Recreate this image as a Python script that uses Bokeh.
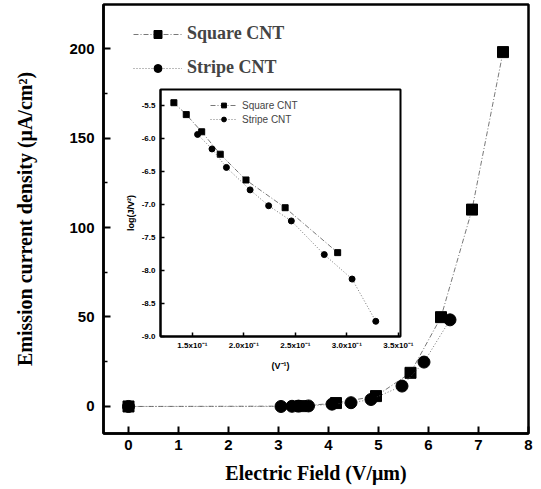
from bokeh.plotting import figure
from bokeh.models import Range1d, FixedTicker
from bokeh.embed import file_html
from bokeh.resources import INLINE

# ---- main data (Electric field V/um vs emission current density uA/cm^2)
sq_field = [0.0, 3.45, 4.15, 4.95, 5.64, 6.25, 6.87, 7.49]
sq_j = [0.0, 0.2, 1.9, 5.8, 18.8, 49.9, 110.0, 198.0]
st_field = [0.0, 3.05, 3.27, 3.40, 3.60, 4.07, 4.45, 4.85, 5.47, 5.91, 6.43]
st_j = [0.0, 0.0, 0.1, 0.2, 0.3, 1.3, 2.1, 3.9, 11.4, 24.8, 48.4]

# ---- inset data (1/V vs log(J/V^2))
sq_inv = [0.132, 0.144, 0.159, 0.177, 0.202, 0.240, 0.291]
sq_log = [-5.46, -5.64, -5.90, -6.24, -6.63, -7.05, -7.73]
st_inv = [0.155, 0.169, 0.183, 0.206, 0.224, 0.246, 0.278, 0.305, 0.328]
st_log = [-5.94, -6.16, -6.44, -6.78, -7.02, -7.25, -7.76, -8.13, -8.77]

main_xticks = [0, 1, 2, 3, 4, 5, 6, 7, 8]
main_yticks = [0, 50, 100, 150, 200]
main_yminor = [-25, 25, 75, 125, 175, 225]
inset_xticks = [0.15, 0.20, 0.25, 0.30, 0.35]
inset_xlabels = ["1.5x10⁻¹", "2.0x10⁻¹", "2.5x10⁻¹", "3.0x10⁻¹", "3.5x10⁻¹"]
inset_yticks = [-9.0, -8.5, -8.0, -7.5, -7.0, -6.5, -6.0, -5.5]
inset_ylabels = ["-9.0", "-8.5", "-8.0", "-7.5", "-7.0", "-6.5", "-6.0", "-5.5"]

SERIF = "Liberation Serif"
SANS = "Liberation Sans"

# ================= main figure =================
p = figure(width=540, height=488, output_backend="svg", toolbar_location=None,
           x_range=Range1d(-0.5, 8.0), y_range=Range1d(-15.1, 224.6),
           min_border_left=103, min_border_right=12, min_border_top=4, min_border_bottom=55)
p.grid.visible = False
p.outline_line_color = "black"
p.outline_line_width = 2.5
p.background_fill_color = "white"

for ax in p.xaxis + p.yaxis:
    ax.axis_line_width = 2.5
    ax.major_tick_in = 7
    ax.major_tick_out = 0
    ax.minor_tick_in = 4
    ax.minor_tick_out = 0
    ax.major_tick_line_width = 2
    ax.minor_tick_line_width = 1.5
    ax.major_label_text_font = SANS
    ax.major_label_text_font_style = "bold"
    ax.major_label_text_font_size = "15px"
    ax.major_label_text_color = "black"
    ax.axis_label_text_font = SERIF
    ax.axis_label_text_font_style = "bold"
    ax.axis_label_text_font_size = "20px"
    ax.axis_label_text_color = "black"

p.xaxis.ticker = FixedTicker(ticks=main_xticks, minor_ticks=[])
p.yaxis.ticker = FixedTicker(ticks=main_yticks, minor_ticks=main_yminor)
p.xaxis.major_label_standoff = 6
p.yaxis.major_label_standoff = 9
p.xaxis.axis_label = "Electric Field (V/μm)"
p.yaxis.axis_label = "Emission current density (μA/cm²)"
p.xaxis.axis_label_standoff = 9
p.yaxis.axis_label_standoff = 30

p.line(sq_field, sq_j, line_color="#555555", line_width=0.8, line_dash="5 2 1 2",
       legend_label="Square CNT")
p.scatter(sq_field, sq_j, marker="square", size=11, fill_color="black", line_color="black",
          legend_label="Square CNT")
p.line(st_field, st_j, line_color="#555555", line_width=0.8, line_dash="1 2",
       legend_label="Stripe CNT")
p.scatter(st_field, st_j, marker="circle", size=12, fill_color="black", line_color="black",
          legend_label="Stripe CNT")

lg = p.legend[0]
lg.location = (30, 355)
lg.border_line_color = None
lg.background_fill_alpha = 0
lg.margin = 0
lg.padding = 0
lg.spacing = 13
lg.glyph_width = 49
lg.glyph_height = 20
lg.label_height = 20
lg.label_standoff = 5
lg.label_text_font = SERIF
lg.label_text_font_style = "bold"
lg.label_text_font_size = "18px"

# ================= inset figure =================
q = figure(width=310, height=292, output_backend="svg", toolbar_location=None,
           x_range=Range1d(0.119, 0.352), y_range=Range1d(-9.0, -5.26),
           min_border_left=50, min_border_right=20, min_border_top=5, min_border_bottom=40)
q.grid.visible = False
q.outline_line_color = "black"
q.outline_line_width = 2
q.background_fill_alpha = 0
q.border_fill_alpha = 0
q.styles = {"position": "absolute", "left": "110px", "top": "84px", "z-index": "5"}

for ax in q.xaxis + q.yaxis:
    ax.axis_line_width = 2
    ax.major_tick_in = 4
    ax.major_tick_out = 0
    ax.minor_tick_in = 2
    ax.minor_tick_out = 0
    ax.major_tick_line_width = 1.5
    ax.major_label_text_font = SANS
    ax.major_label_text_font_style = "bold"
    ax.major_label_text_font_size = "8px"
    ax.major_label_text_color = "black"
    ax.axis_label_text_font = SANS
    ax.axis_label_text_font_style = "bold"
    ax.axis_label_text_font_size = "9px"
    ax.axis_label_text_color = "black"

q.xaxis.ticker = FixedTicker(ticks=inset_xticks, minor_ticks=[])
q.xaxis.major_label_overrides = dict(zip(inset_xticks, inset_xlabels))
q.yaxis.ticker = FixedTicker(ticks=inset_yticks, minor_ticks=[])
q.yaxis.major_label_overrides = dict(zip(inset_yticks, inset_ylabels))
q.xaxis.axis_label = "(V⁻¹)"
q.yaxis.axis_label = "log(J/V²)"
q.xaxis.major_label_standoff = 4
q.yaxis.major_label_standoff = 5
q.xaxis.axis_label_standoff = 8
q.yaxis.axis_label_standoff = 3

q.line(sq_inv, sq_log, line_color="#555555", line_width=0.8, line_dash="5 2 1 2",
       legend_label="Square CNT")
q.scatter(sq_inv, sq_log, marker="square", size=6, fill_color="black", line_color="black",
          legend_label="Square CNT")
q.line(st_inv, st_log, line_color="#555555", line_width=0.8, line_dash="1 2",
       legend_label="Stripe CNT")
q.scatter(st_inv, st_log, marker="circle", size=6, fill_color="black", line_color="black",
          legend_label="Stripe CNT")

lq = q.legend[0]
lq.location = (50, 211)
lq.border_line_color = None
lq.background_fill_alpha = 0
lq.margin = 0
lq.padding = 0
lq.spacing = 2
lq.glyph_width = 27
lq.glyph_height = 12
lq.label_height = 12
lq.label_standoff = 5
lq.label_text_font = SANS
lq.label_text_font_size = "10px"

open("out.html", "w").write(file_html([p, q], INLINE))
